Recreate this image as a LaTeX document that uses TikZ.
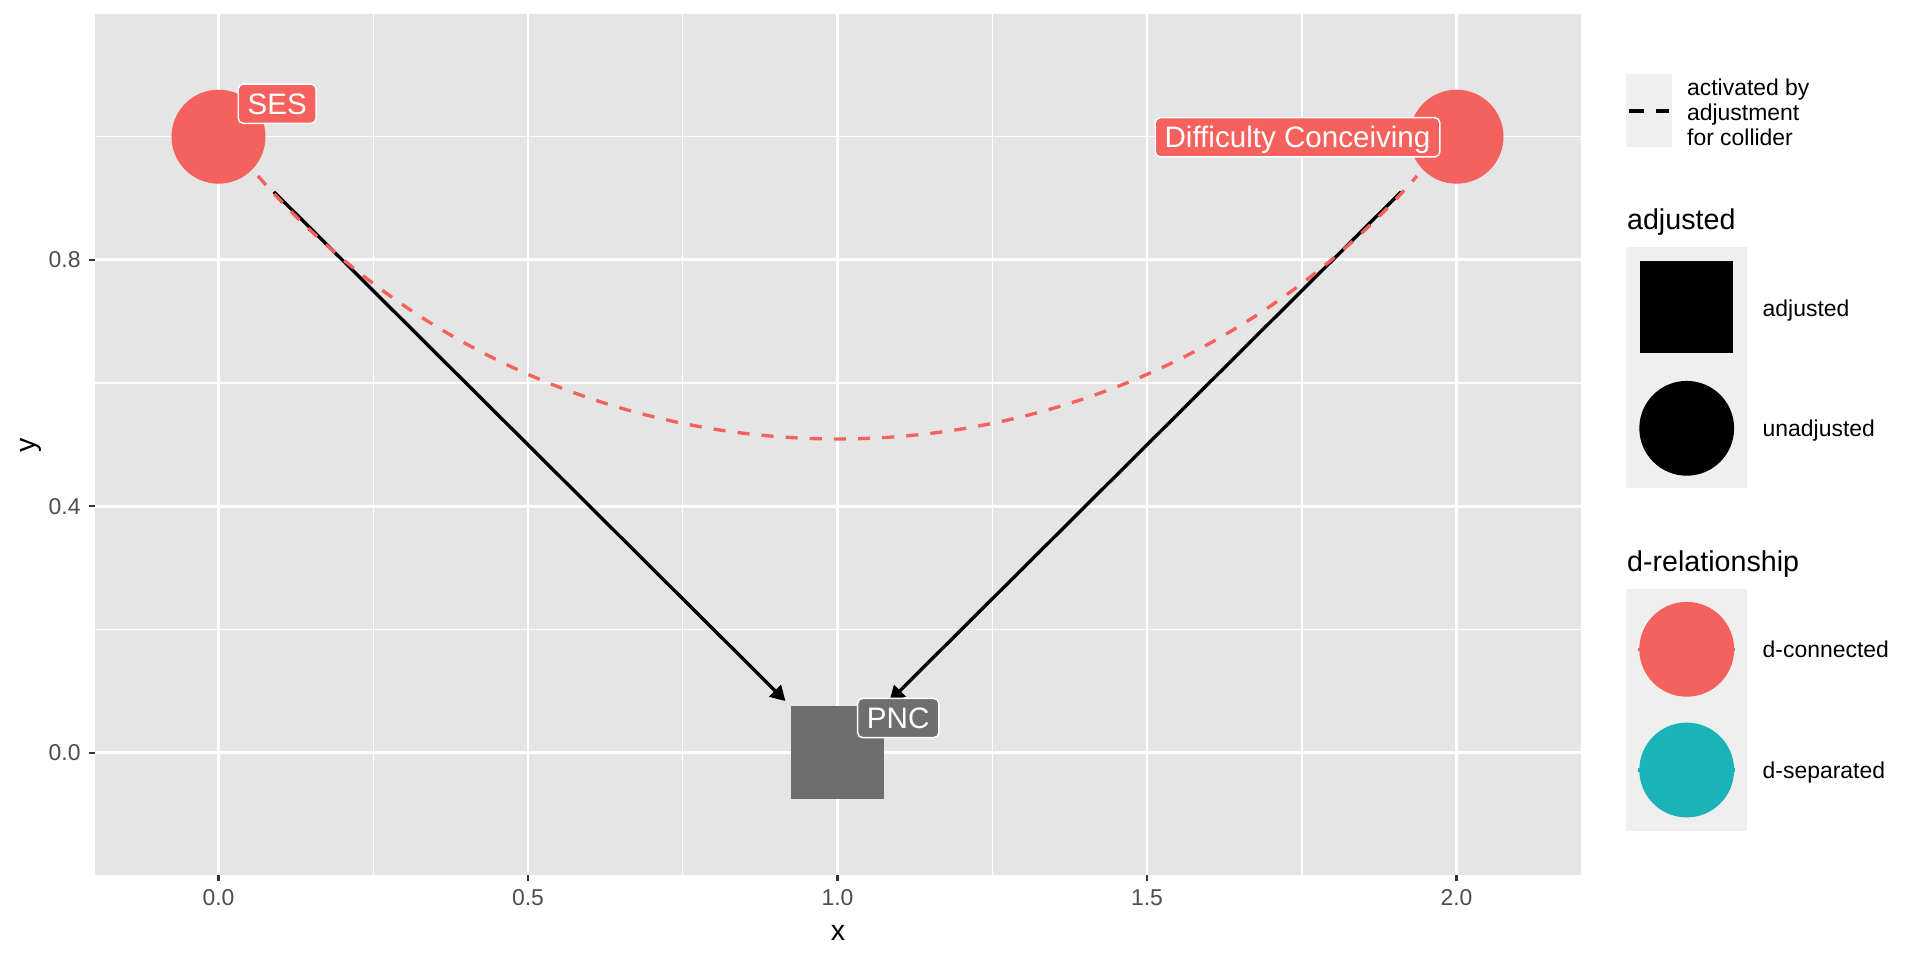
\documentclass[tikz,border=0pt]{standalone}
\usepackage{fontspec}
\setmainfont{Liberation Sans}
\usetikzlibrary{arrows.meta,calc}
\definecolor{dred}{HTML}{F5615C}
\definecolor{dteal}{HTML}{1AB3B8}
\definecolor{adjgray}{HTML}{6E6E6E}
\definecolor{panelbg}{HTML}{E5E5E5}
\definecolor{keybg}{HTML}{EFEFEF}
\definecolor{ticklab}{HTML}{4D4D4D}
\definecolor{tickcol}{HTML}{333333}
\tikzset{
  gridmajor/.style={white, line width=1.4bp},
  gridminor/.style={white, line width=0.7bp},
  tickmark/.style={tickcol, line width=1.1bp},
  ticklabel/.style={ticklab, font=\fontsize{11bp}{13bp}\selectfont, inner sep=0pt},
  axistitle/.style={black, font=\fontsize{13.75bp}{16bp}\selectfont, inner sep=0pt},
  dnode/.style={circle, fill=dred, minimum size=45.1bp, inner sep=0pt},
  adjnode/.style={rectangle, fill=adjgray, minimum size=44.6bp, inner sep=0pt},
  nodelabel/.style={draw=white, line width=0.7bp, rounded corners=2.4bp, text=white,
    font=\fontsize{14.2bp}{17bp}\selectfont, inner xsep=4.5bp, inner ysep=4.3bp,
    text height=10.2bp, text depth=0pt},
  causal/.style={black, line width=1.6bp, -{Triangle[length=7.1bp,width=7.8bp]}},
  collider/.style={dred, line width=1.6bp, dash pattern=on 5.8bp off 5.8bp},
  legtitle/.style={font=\fontsize{13.75bp}{16bp}\selectfont, inner sep=0pt, anchor=base west},
  leglabel/.style={font=\fontsize{11bp}{12bp}\selectfont, inner sep=0pt, anchor=base west},
  keybox/.style={fill=keybg},
}
\begin{document}
\begin{tikzpicture}[x=0.48bp, y=-0.48bp]
\useasboundingbox (0,0) rectangle (1920,960);
\fill[white] (0,0) rectangle (1920,960);
% panel
\fill[panelbg] (95,14) rectangle (1581,875);
\foreach \gx in {373.25,682.75,992.25,1301.75} \draw[gridminor] (\gx,14) -- (\gx,875);
\foreach \gy in {629.5,383.1,136.7} \draw[gridminor] (95,\gy) -- (1581,\gy);
\foreach \gx in {218.5,528,837.5,1147,1456.5} \draw[gridmajor] (\gx,14) -- (\gx,875);
\foreach \gy in {752.7,506.3,259.9} \draw[gridmajor] (95,\gy) -- (1581,\gy);
% nodes
\node[dnode] (ses) at (218.5,136.7) {};
\node[dnode] (dc) at (1456.5,136.7) {};
\node[adjnode] (pnc) at (837.5,752.7) {};
% edges
\draw[causal, shorten <=14.7bp, shorten >=3.5bp] (ses) -- (pnc);
\draw[causal, shorten <=14.7bp, shorten >=3.5bp] (dc) -- (pnc);
% collider path
\coordinate (cs) at ($(ses)+(39.5,39.3)$);
\coordinate (ce) at ($(dc)+(-39.5,39.3)$);
\draw[collider] (cs) .. controls ($(cs)+(307,350.6)$) and ($(ce)+(-307,350.6)$) .. (ce);
% labels
\node[nodelabel, fill=dred] (seslab) at (277.2,103.7) {SES};
\node[nodelabel, fill=dred] (dclab) at (1297.5,137.3) {Difficulty Conceiving};
\node[nodelabel, fill=adjgray] (pnclab) at (898.2,718) {PNC};
% axes ticks
\foreach \gx/\lab in {218.5/0.0,528/0.5,837.5/1.0,1147/1.5,1456.5/2.0}{
  \draw[tickmark] (\gx,875) -- (\gx,880.7);
  \node[ticklabel, anchor=base] at (\gx,905) {\lab};
}
\foreach \gy/\lab in {752.7/0.0,506.3/0.4,259.9/0.8}{
  \draw[tickmark] (89.3,\gy) -- (95,\gy);
  \node[ticklabel, anchor=base east] at (81,\gy+8) {\lab};
}
\node[axistitle, anchor=base] (xtitle) at (838,940.7) {x};
\node[axistitle, rotate=90] (ytitle) at (31,445) {y};
% legend 1
\fill[keybox] (1626,74) rectangle (1671.7,146.7);
\draw[black, line width=1.5bp, dash pattern=on 7.2bp off 5.8bp] (1629,111) -- (1669,111);
\node[font=\fontsize{11bp}{12bp}\selectfont, inner sep=0pt, anchor=north west, align=left] (leg1) at (1686.7,78.5) {activated by\\adjustment\\for collider};
% legend adjusted
\node[legtitle] (legadj) at (1626.7,230) {adjusted};
\fill[keybox] (1626,246.7) rectangle (1746.7,488.3);
\node[rectangle, fill=black, minimum size=44.4bp, inner sep=0pt] (kadj) at (1686.3,307.2) {};
\node[circle, fill=black, minimum size=45.5bp, inner sep=0pt] (kunadj) at (1686.7,428.3) {};
\node[leglabel] at (1762.3,316) {adjusted};
\node[leglabel] at (1762.3,436.5) {unadjusted};
% legend d-relationship
\node[legtitle] (legdrel) at (1626.7,571.7) {d-relationship};
\fill[keybox] (1626,589) rectangle (1746.7,830.7);
\draw[dred, line width=1.5bp] (1638,649.3) -- (1735,649.3);
\node[circle, fill=dred, minimum size=45.5bp, inner sep=0pt] (kcon) at (1686.7,649.3) {};
\draw[dteal, line width=1.5bp] (1638,770) -- (1735,770);
\node[circle, fill=dteal, minimum size=45.5bp, inner sep=0pt] (ksep) at (1686.7,770) {};
\node[leglabel] at (1762.3,657.5) {d-connected};
\node[leglabel] at (1762.3,778.3) {d-separated};
\end{tikzpicture}
\end{document}
